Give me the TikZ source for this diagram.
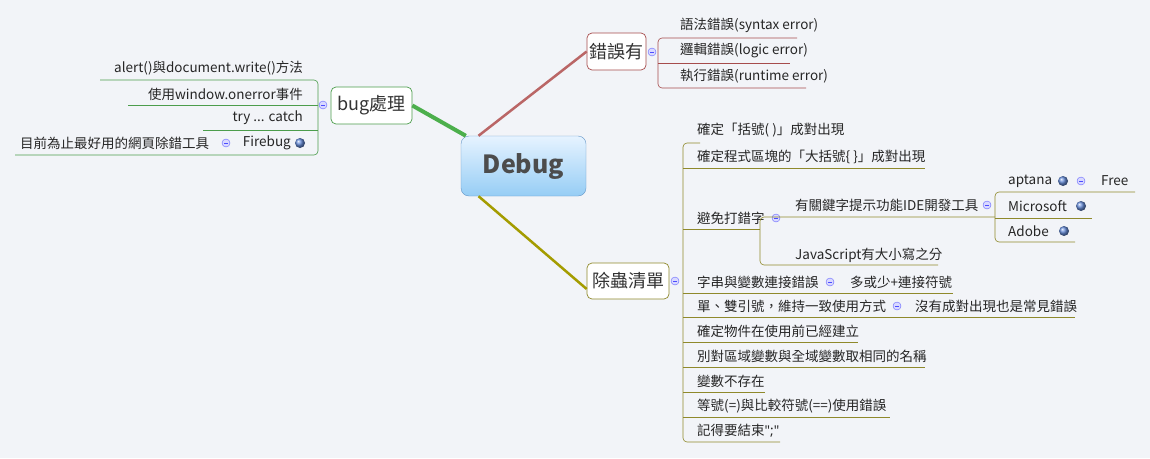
\documentclass[tikz,border=0pt]{standalone}
\usepackage{fontspec}
\setmainfont{Noto Sans CJK TC}
\newfontfamily\latinq{Noto Sans}
\begin{document}
\begin{tikzpicture}[x=1pt,y=-1pt,
  txt/.style={anchor=west,inner sep=0pt,font=\fontsize{13.5}{13.5}\selectfont,text=black!85},
  topic/.style={draw=#1,rounded corners=5pt,fill=white,line width=0.7pt,font=\fontsize{18}{18}\selectfont,inner sep=0pt,text=black!80},
  col/.style={draw=#1!60,fill=#1!15,circle,inner sep=0pt,minimum size=8pt,path picture={\draw[#1!70,line width=0.6pt] ([xshift=-2pt]path picture bounding box.center)--([xshift=2pt]path picture bounding box.center);}},
  globe/.style={circle,inner sep=0pt,minimum size=10pt,shading=ball,ball color=teal!50!blue!60},
  gl/.style={draw=green!45!black!70,line width=0.6pt,rounded corners=4pt},
  rl/.style={draw=red!50!black!70,line width=0.6pt,rounded corners=4pt},
  ol/.style={draw=olive!70!gray,line width=0.6pt,rounded corners=4pt}]
\fill[fill={rgb,255:red,242;green,244;blue,248}] (0,0) rectangle (1150,458);
\useasboundingbox (0,0) rectangle (1150,458);
% central
\node[draw={rgb,255:red,100;green,150;blue,200},rounded corners=8pt,top color={rgb,255:red,230;green,243;blue,255},bottom color={rgb,255:red,150;green,205;blue,245},minimum width=125pt,minimum height=60pt,font=\fontsize{25}{25}\selectfont\bfseries,text=black!70] (debug) at (523.5,166) {Debug};
\node[topic=green!45!black!70,minimum width=81pt,minimum height=37pt] (bug) at (371.5,105.5) {bug處理};
\node[topic=red!50!black!70,minimum width=59pt,minimum height=37pt] (err) at (616.5,51.5) {錯誤有};
\node[topic=olive!70!gray,minimum width=82pt,minimum height=36pt] (chk) at (628,281) {除蟲清單};
\draw[green!55!black!70,line width=4pt] ([xshift=5pt]debug.north west) -- (bug.east);
\draw[red!55!black!60,line width=2.5pt] ([xshift=-45pt]debug.north) -- (err.west);
\draw[olive!80!yellow,line width=2.5pt] ([xshift=-45pt]debug.south) -- ([yshift=-8pt]chk.west);
% collapse circles
\node[col=blue] (c1) at (323,105) {};
\node[col=blue] (c2) at (652,52) {};
\node[col=blue] (c3) at (675,281) {};
% bug children
\draw[gl] (100,80) -- (318,80) -- (318,155) -- (15,155);
\draw[gl] (128,105) -- (318,105);
\draw[gl] (203,130) -- (318,130);
\node[txt,anchor=east] (b1) at (303,68) {alert()與document.write()方法};
\node[txt,anchor=east] (b2) at (303,94) {使用window.onerror事件};
\node[txt,anchor=east] (b3) at (303,118) {try ... catch};
\node[globe] (g1) at (300,143) {};
\node[txt,anchor=east] (b4) at (291,143) {Firebug};
\node[col=blue] (c4) at (226,143) {};
\node[txt] (b5) at (20,143) {目前為止最好用的網頁除錯工具};
% err children
\draw[rl] (797,38) -- (658,38) -- (658,88) -- (806,88);
\draw[rl] (658,63) -- (790,63);
\node[txt] (e1) at (680,25) {語法錯誤(syntax error)};
\node[txt] (e2) at (680,50) {邏輯錯誤(logic error)};
\node[txt] (e3) at (680,76) {執行錯誤(runtime error)};
% checklist
\draw[ol] (700,143) -- (683,143) -- (683,442) -- (780,442);
\node[txt] (k1) at (697,130) {確定「括號( )」成對出現};
\draw[ol] (683,168) -- (925,168);
\node[txt] (k2) at (697,157) {確定程式區塊的「大括號\{ \}」成對出現};
\draw[ol] (683,229) -- (760,229);
\node[txt] (k3) at (697,218) {避免打錯字};
\node[col=blue] (c5) at (776,218) {};
\draw[ol] (995,217) -- (760,217) -- (760,265) -- (938,265);
\node[txt] (k4) at (795,205) {有關鍵字提示功能IDE開發工具};
\node[col=blue] (c6) at (987,205) {};
\node[txt] (k5) at (795,255) {JavaScript有大小寫之分};
\draw[ol] (1135,192) -- (995,192) -- (995,242) -- (1075,242);
\draw[ol] (995,218) -- (1092,218);
\node[txt] (k6) at (1008,181) {aptana};
\node[globe] (g2) at (1063,181) {};
\node[col=blue] (c7) at (1081,181) {};
\node[txt] (k7) at (1101,181) {Free};
\node[txt] (k8) at (1008,206) {Microsoft};
\node[globe] (g3) at (1081,206) {};
\node[txt] (k9) at (1008,231) {Adobe};
\node[globe] (g4) at (1064,231) {};
\draw[ol] (683,293) -- (953,293);
\node[txt] (k10) at (697,282) {字串與變數連接錯誤};
\node[col=blue] (c8) at (830,282) {};
\node[txt] (k11) at (850,282) {多或少+連接符號};
\draw[ol] (683,317) -- (1075,317);
\node[txt] (k12) at (697,306) {單、雙引號，維持一致使用方式};
\node[col=blue] (c9) at (897,306) {};
\node[txt] (k13) at (915,306) {沒有成對出現也是常見錯誤};
\draw[ol] (683,342) -- (858,342);
\node[txt] (k14) at (697,331) {確定物件在使用前已經建立};
\draw[ol] (683,367) -- (925,367);
\node[txt] (k15) at (697,356) {別對區域變數與全域變數取相同的名稱};
\draw[ol] (683,392) -- (765,392);
\node[txt] (k16) at (697,381) {變數不存在};
\draw[ol] (683,417) -- (890,417);
\node[txt] (k17) at (697,406) {等號(=)與比較符號(==)使用錯誤};
\node[txt] (k18) at (697,431) {記得要結束{\latinq";"}};
\end{tikzpicture}
\end{document}
